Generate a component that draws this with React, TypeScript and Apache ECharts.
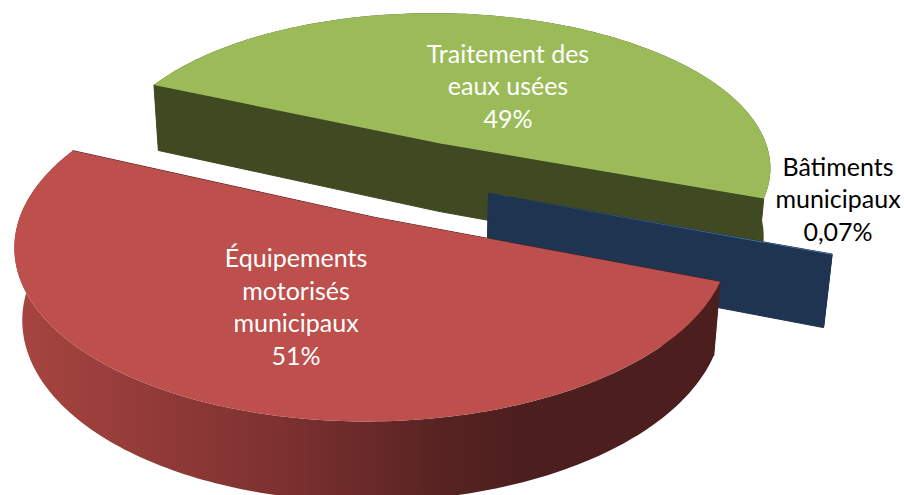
import React, { useEffect, useRef } from "react";
import * as echarts from "echarts";

const categories = ["Traitement des\neaux usées", "Bâtiments\nmunicipaux", "Équipements\nmotorisés\nmunicipaux"];
const values = [49, 0.07, 51];
const valueLabels = ["49%", "0,07%", "51%"];
const topColors = ["#9BBB59", "#4F81BD", "#BD4F4C"];
const sideColors = ["#404A22", "#1F3450", "#4C1F1E"];

const START_DEG = 202.5;
const EXPLODE = 0.25;
const HEIGHT = 0.237;
const CX = 408, CY = 179, SCALE = 340, SIN_T = 0.4704, COS_T = 0.8825, DIST = 5.8, SHEAR_X = 0.03, SHEAR_Y = 0.015;

function project(X: number, Y: number, Z: number): number[] {
  const w = 1 - (Y * COS_T + Z * SIN_T) / DIST;
  return [
    CX + ((X - SHEAR_X * Y) * SCALE) / w,
    CY + ((Y * SIN_T - Z * COS_T + SHEAR_Y * X) * SCALE) / w,
  ];
}

const total = values.reduce((a, b) => a + b, 0);

function sliceRange(i: number): [number, number] {
  let a = START_DEG;
  for (let k = 0; k < i; k++) a += (values[k] / total) * 360;
  return [a, a + (values[i] / total) * 360];
}

function arc(ox: number, oy: number, a0: number, a1: number, z: number): number[][] {
  const n = Math.max(1, Math.ceil(Math.abs(a1 - a0)));
  const pts: number[][] = [];
  for (let k = 0; k <= n; k++) {
    const t = ((a0 + ((a1 - a0) * k) / n) * Math.PI) / 180;
    pts.push(project(ox + Math.cos(t), oy + Math.sin(t), z));
  }
  return pts;
}

function renderSlice(params: any) {
  const i = params.dataIndex as number;
  const [a0, a1] = sliceRange(i);
  const mid = (((a0 + a1) / 2) * Math.PI) / 180;
  const ox = EXPLODE * Math.cos(mid);
  const oy = EXPLODE * Math.sin(mid);
  const topArc = arc(ox, oy, a0, a1, 0);
  const botArc = arc(ox, oy, a0, a1, -HEIGHT);
  const cTop = project(ox, oy, 0);
  const cBot = project(ox, oy, -HEIGHT);
  const side = sideColors[i];
  const wallFill =
    i === 2
      ? new echarts.graphic.LinearGradient(13, 0, 520, 0, [
          { offset: 0, color: "#A84541" },
          { offset: 0.55, color: "#7B302F" },
          { offset: 0.85, color: "#572322" },
          { offset: 1, color: "#4C1F1E" },
        ], true)
      : side;
  const poly = (points: number[][], fill: any, stroke?: string) => ({
    type: "polygon",
    shape: { points },
    style: stroke ? { fill, stroke, lineWidth: 1 } : { fill },
  });
  const last = topArc.length - 1;
  return {
    type: "group",
    children: [
      poly([...topArc, ...botArc.slice().reverse()], wallFill),
      poly([cTop, topArc[0], botArc[0], cBot], side, side),
      poly([cTop, topArc[last], botArc[last], cBot], side, side),
      poly([cTop, ...topArc], topColors[i]),
    ],
  };
}

const labelPositions = [
  { x: 508, y: 85, fill: "#FFFFFF" },
  { x: 838, y: 198, fill: "#000000" },
  { x: 296, y: 306, fill: "#FFFFFF" },
];

export default function App() {
  const ref = useRef<HTMLDivElement>(null);
  useEffect(() => {
    document.documentElement.style.background = "#fff";
    const chart = echarts.init(ref.current!, undefined, { renderer: "svg" });
    chart.setOption({
      animation: false,
      backgroundColor: "#FFFFFF",
      series: [
        {
          type: "custom",
          coordinateSystem: "none",
          silent: true,
          clip: false,
          renderItem: renderSlice,
          data: values.map((v, i) => ({ name: categories[i], value: v })),
        },
      ],
      graphic: categories.map((c, i) => ({
        type: "text",
        z: 100,
        x: labelPositions[i].x,
        y: labelPositions[i].y,
        silent: true,
        style: {
          text: `${c}\n${valueLabels[i]}`,
          fill: labelPositions[i].fill,
          align: "center",
          verticalAlign: "middle",
          fontFamily: "Lato",
          fontSize: 25,
          lineHeight: 32.5,
        },
      })),
    });
    return () => chart.dispose();
  }, []);
  return <div ref={ref} style={{ position: "fixed", left: 0, top: 0, width: 904, height: 495 }} />;
}
